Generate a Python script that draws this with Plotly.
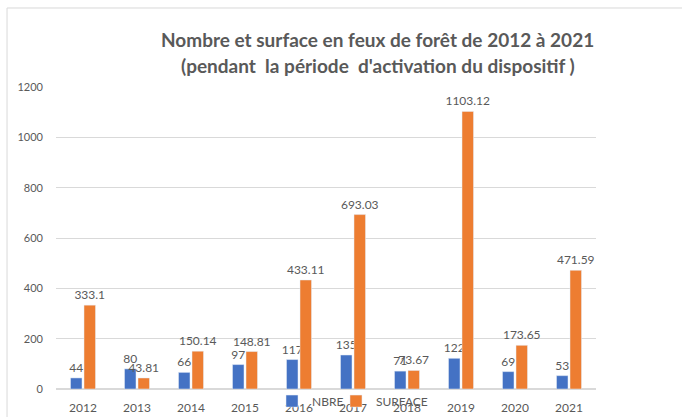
import plotly.graph_objects as go

years = ["2012", "2013", "2014", "2015", "2016", "2017", "2018", "2019", "2020", "2021"]
nbre = [44, 80, 66, 97, 117, 135, 71, 122, 69, 53]
surface = [333.1, 43.81, 150.14, 148.81, 433.11, 693.03, 73.67, 1103.12, 173.65, 471.59]
title_line1 = "Nombre et surface en feux de forêt de 2012 à 2021"
title_line2 = "(pendant  la période  d'activation du dispositif )"

GRAY = "#595959"
FONT = "Lato"

fig = go.Figure()
fig.add_trace(go.Bar(
    x=years, y=nbre, name="NBRE", marker_color="#4472C4", legend="legend",
    text=[str(v) for v in nbre], textposition="outside", constraintext="none",
    textfont=dict(color=GRAY, size=12, family=FONT), cliponaxis=False,
))
fig.add_trace(go.Bar(
    x=years, y=surface, name="SURFACE", marker_color="#ED7D31", legend="legend2",
    text=[f"{v:g}" for v in surface], textposition="outside", constraintext="none",
    textfont=dict(color=GRAY, size=12, family=FONT), cliponaxis=False,
))

leg_common = dict(orientation="h", y=-0.04, xanchor="left", yanchor="middle",
                  bgcolor="rgba(0,0,0,0)", font=dict(size=12, color=GRAY), itemwidth=30)

fig.update_layout(
    width=682, height=417,
    margin=dict(l=56, r=86, t=87, b=28, autoexpand=False),
    paper_bgcolor="white", plot_bgcolor="white",
    barmode="group", bargap=0.5, bargroupgap=0.15,
    font=dict(family=FONT, color=GRAY, size=11),
    showlegend=True,
    legend=dict(x=0.4, **leg_common),
    legend2=dict(x=0.5185, **leg_common),
    xaxis=dict(showgrid=False, showline=True, linecolor="#D9D9D9", ticks="",
               tickfont=dict(size=12, color=GRAY), automargin=False, ticklabelstandoff=8),
    yaxis=dict(range=[0, 1200], dtick=200, showgrid=True, gridcolor="#D9D9D9",
               zeroline=True, zerolinecolor="#D9D9D9", showline=False, automargin=False,
               tickfont=dict(size=11, color=GRAY), ticklabelstandoff=12),
    annotations=[
        dict(text=f"<b>{title_line1}</b>", x=0.596, y=1.156, xref="paper", yref="paper",
             xanchor="center", yanchor="middle", showarrow=False,
             font=dict(size=19, color=GRAY, family=FONT)),
        dict(text=f"<b>{title_line2}</b>", x=0.596, y=1.07, xref="paper", yref="paper",
             xanchor="center", yanchor="middle", showarrow=False,
             font=dict(size=19, color=GRAY, family=FONT)),
    ],
    shapes=[
        dict(type="line", xref="paper", yref="paper", x0=-0.0907, x1=-0.0907, y0=-0.2, y1=1.2616,
             line=dict(color="#D9D9D9", width=1)),
        dict(type="line", xref="paper", yref="paper", x0=-0.0907, x1=1.3, y0=1.2616, y1=1.2616,
             line=dict(color="#D9D9D9", width=1)),
    ],
)

fig.write_html("out.html", config={"displayModeBar": False},
               post_script="document.body.style.margin='0px';")
